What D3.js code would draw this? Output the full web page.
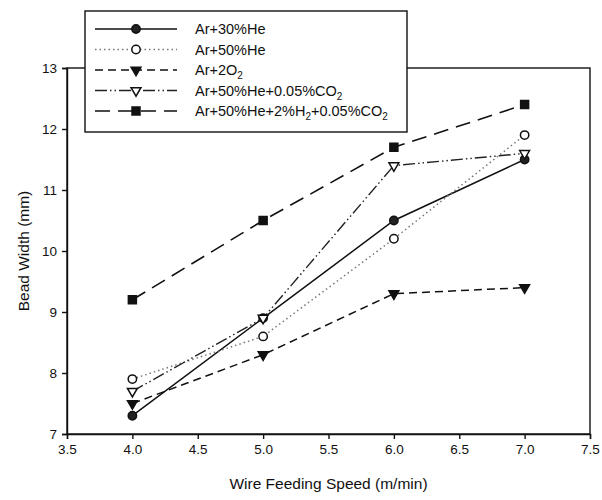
<!DOCTYPE html>
<html>
<head>
<meta charset="utf-8">
<title>Bead width</title>
<script src="https://d3js.org/d3.v7.min.js"></script>
<style>
  body { margin: 0; background: #fff; }
  text { font-family: Arial, "Liberation Sans", sans-serif; fill: #111; }
  .axis path, .axis line { stroke: #111; stroke-width: 1.4; }
  .axis text { font-size: 13.5px; }
</style>
</head>
<body>
<script>
// data
var speeds = [4.0, 5.0, 6.0, 7.0];
var ar30He = [7.3, 8.9, 10.5, 11.5];
var ar50He = [7.9, 8.6, 10.2, 11.9];
var ar2O2 = [7.5, 8.3, 9.3, 9.4];
var ar50HeCO2 = [7.7, 8.9, 11.4, 11.6];
var ar50HeH2CO2 = [9.2, 10.5, 11.7, 12.4];
var xTicks = [3.5, 4.0, 4.5, 5.0, 5.5, 6.0, 6.5, 7.0, 7.5];
var yTicks = [7, 8, 9, 10, 11, 12, 13];

var w = 602, h = 500;
var margin = {left: 67, right: 12, top: 68, bottom: 66};

// name parts: [text, isSubscript]
var series = [
  {name: [["Ar+30%He", 0]], values: ar30He, symbol: d3.symbolCircle, size: 55, fill: "#222", dash: null, color: "#111", width: 1.5},
  {name: [["Ar+50%He", 0]], values: ar50He, symbol: d3.symbolCircle, size: 55, fill: "#fff", dash: "1.5,3", color: "#777", width: 1.5},
  {name: [["Ar+2O", 0], ["2", 1]], values: ar2O2, symbol: d3.symbolTriangle, size: 42, fill: "#111", dash: "8,5", color: "#111", width: 1.5, rot: 180},
  {name: [["Ar+50%He+0.05%CO", 0], ["2", 1]], values: ar50HeCO2, symbol: d3.symbolTriangle, size: 42, fill: "#fff", dash: "12,3,1.5,3,1.5,3", color: "#222", width: 1.4, rot: 180},
  {name: [["Ar+50%He+2%H", 0], ["2", 1], ["+0.05%CO", 0], ["2", 1]], values: ar50HeH2CO2, symbol: d3.symbolSquare, size: 64, fill: "#111", dash: "15,8", color: "#111", width: 1.6}
];

var svg = d3.select("body").append("svg")
  .attr("width", w)
  .attr("height", h);

var x = d3.scaleLinear().domain([3.5, 7.5]).range([margin.left, w - margin.right]);
var y = d3.scaleLinear().domain([7, 13]).range([h - margin.bottom, margin.top]);

// frame
svg.append("rect")
  .attr("x", x(3.5)).attr("y", y(13))
  .attr("width", x(7.5) - x(3.5)).attr("height", y(7) - y(13))
  .attr("fill", "none").attr("stroke", "#111").attr("stroke-width", 1.4);

svg.append("g")
  .attr("class", "axis")
  .attr("transform", "translate(0," + y(7) + ")")
  .call(d3.axisBottom(x).tickValues(xTicks).tickFormat(d3.format(".1f")).tickSizeOuter(0).tickSize(5).tickPadding(5));

svg.append("g")
  .attr("class", "axis")
  .attr("transform", "translate(" + x(3.5) + ",0)")
  .call(d3.axisLeft(y).tickValues(yTicks).tickFormat(d3.format("d")).tickSizeOuter(0).tickSize(5).tickPadding(5));

svg.append("text")
  .attr("x", (x(3.5) + x(7.5)) / 2)
  .attr("y", 489)
  .attr("text-anchor", "middle")
  .attr("font-size", "15.5px")
  .text("Wire Feeding Speed (m/min)");

svg.append("text")
  .attr("transform", "translate(29," + (y(10)) + ") rotate(-90)")
  .attr("text-anchor", "middle")
  .attr("font-size", "15.5px")
  .text("Bead Width (mm)");

var line = d3.line()
  .x(function(d, i) { return x(speeds[i]); })
  .y(function(d) { return y(d); });

series.forEach(function(s) {
  svg.append("path")
    .datum(s.values)
    .attr("d", line)
    .attr("fill", "none")
    .attr("stroke", s.color)
    .attr("stroke-width", s.width)
    .attr("stroke-dasharray", s.dash);

  svg.selectAll(null)
    .data(s.values)
    .enter()
    .append("path")
    .attr("d", d3.symbol().type(s.symbol).size(s.size))
    .attr("transform", function(d, i) {
      return "translate(" + x(speeds[i]) + "," + y(d) + ")" + (s.rot ? " rotate(" + s.rot + ")" : "");
    })
    .attr("fill", s.fill)
    .attr("stroke", "#111")
    .attr("stroke-width", 1.5);
});

// legend
var legend = svg.append("g");
legend.append("rect")
  .attr("x", 85).attr("y", 11)
  .attr("width", 322).attr("height", 121)
  .attr("fill", "#fff").attr("stroke", "#111").attr("stroke-width", 1.4);

series.forEach(function(s, i) {
  var ly = 29 + i * 20.5;
  legend.append("line")
    .attr("x1", 95).attr("x2", 177)
    .attr("y1", ly).attr("y2", ly)
    .attr("stroke", s.color)
    .attr("stroke-width", s.width)
    .attr("stroke-dasharray", s.dash);
  legend.append("path")
    .attr("d", d3.symbol().type(s.symbol).size(s.size))
    .attr("transform", "translate(136," + ly + ")" + (s.rot ? " rotate(" + s.rot + ")" : ""))
    .attr("fill", s.fill)
    .attr("stroke", "#111")
    .attr("stroke-width", 1.5);
  var t = legend.append("text")
    .attr("x", 195).attr("y", ly + 5)
    .attr("font-size", "14.5px");
  var low = false;
  s.name.forEach(function(p) {
    var dy = 0;
    if (p[1] && !low) { dy = 4; low = true; }
    else if (!p[1] && low) { dy = -4; low = false; }
    t.append("tspan")
      .attr("font-size", p[1] ? "10px" : "14.5px")
      .attr("dy", dy)
      .text(p[0]);
  });
});
</script>
</body>
</html>
